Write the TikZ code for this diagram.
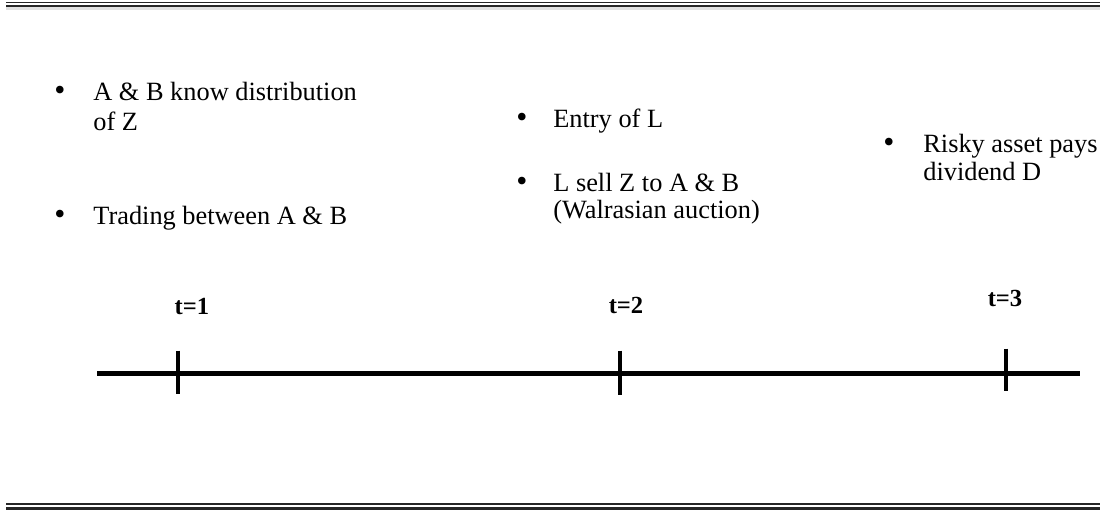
\documentclass[tikz,border=0pt]{standalone}
\usepackage{fontspec}
\setmainfont{Liberation Serif}
\usepackage{tikz}

\tikzset{
  txt/.style={font=\fontsize{15}{18}\selectfont, anchor=base west, inner sep=0pt},
  bul/.style={font=\fontsize{18}{20}\selectfont, anchor=base, inner sep=0pt},
  tlab/.style={font=\fontsize{14}{16}\selectfont\bfseries, anchor=base, inner sep=0pt},
  rule/.style={line width=#1, black!85}
}

\begin{document}
\begin{tikzpicture}[x=0.02cm,y=-0.02cm]
          \useasboundingbox (0,0) rectangle (1100,511);
          % double rules top and bottom
          \draw[line width=2pt, black!12] (6,8.5) -- (1100,8.5);
          \draw[rule=0.8pt] (6,2.4) -- (1100,2.4);
          \draw[rule=1.3pt] (6,6) -- (1100,6);
          \draw[rule=1pt] (6,503.9) -- (1100,503.9);
          \draw[rule=1.5pt] (6,508.7) -- (1100,508.7);
          % t=1
          \node[bul] (b11) at (60,100.5) {\textbullet};
          \node[txt] (a11) at (93,100.5) {A \& B know distribution};
          \node[txt] (a12) at (93,130) {of Z};
          \node[bul] (b12) at (60,224) {\textbullet};
          \node[txt] (a13) at (93,224) {Trading between A \& B};
          % t=2
          \node[bul] (b21) at (522,127) {\textbullet};
          \node[txt] (a21) at (553,127) {Entry of L};
          \node[bul] (b22) at (522,191.5) {\textbullet};
          \node[txt] (a22) at (553,191.5) {L sell Z to A \& B};
          \node[txt] (a23) at (553,218) {(Walrasian auction)};
          % t=3
          \node[bul] (b31) at (889,152) {\textbullet};
          \node[txt] (a31) at (923,152) {Risky asset pays};
          \node[txt] (a32) at (923,180) {dividend D};
          % time line
          \coordinate (start) at (97,373.5);
          \coordinate (stop) at (1080,373.5);
          \draw[line width=2.3pt] (start) -- (stop);
          \coordinate (t1) at (178,373.5);
          \coordinate (t2) at (620,373.5);
          \coordinate (t3) at (1006,373.5);
          \draw[line width=2pt] ([yshift=0.46cm]t1) -- ([yshift=-0.40cm]t1);
          \draw[line width=2pt] ([yshift=0.46cm]t2) -- ([yshift=-0.42cm]t2);
          \draw[line width=2pt] ([yshift=0.50cm]t3) -- ([yshift=-0.34cm]t3);
          \node[tlab] (l1) at (192,314) {t=1};
          \node[tlab] (l2) at (626,313) {t=2};
          \node[tlab] (l3) at (1005,306) {t=3};
        \end{tikzpicture}
\end{document}
